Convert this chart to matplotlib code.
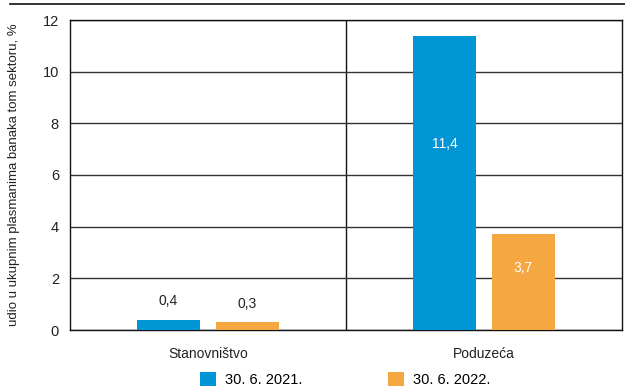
import matplotlib
matplotlib.use("Agg")
import matplotlib.pyplot as plt
from matplotlib.lines import Line2D
from matplotlib import font_manager
import numpy as np

names = {f.name for f in font_manager.fontManager.ttflist}
fam = 'Liberation Sans Narrow' if 'Liberation Sans Narrow' in names else 'Liberation Sans'
plt.rcParams['font.family'] = [fam, 'DejaVu Sans']

categories = ["Stanovništvo", "Poduzeća"]
series_names = ["30. 6. 2021.", "30. 6. 2022."]
v2021 = [0.4, 11.4]
v2022 = [0.3, 3.7]
labels2021 = ["0,4", "11,4"]
labels2022 = ["0,3", "3,7"]
yticks = [0, 2, 4, 6, 8, 10, 12]
colors = ["#0096D6", "#F5A841"]

fig = plt.figure(figsize=(6.25, 3.89), dpi=100)
ax = fig.add_axes([70/625, 1-330/389, 552/625, 310/389])

x = np.arange(len(categories))
w = 0.225
off = 0.143
b1 = ax.bar(x - off, v2021, w, color=colors[0], label=series_names[0], zorder=3)
b2 = ax.bar(x + off, v2022, w, color=colors[1], label=series_names[1], zorder=3)

for xi, v, lab in zip(x - off, v2021, labels2021):
    if v > 2:
        ax.text(xi, v*0.63, lab, ha='center', va='center', color='white', fontsize=10, zorder=4)
    else:
        ax.text(xi, v + 0.45, lab, ha='center', va='bottom', color='#222222', fontsize=10, zorder=4)
for xi, v, lab in zip(x + off, v2022, labels2022):
    if v > 2:
        ax.text(xi, v*0.65, lab, ha='center', va='center', color='white', fontsize=10, zorder=4)
    else:
        ax.text(xi, v + 0.45, lab, ha='center', va='bottom', color='#222222', fontsize=10, zorder=4)

ax.set_xlim(-0.5, 1.5)
ax.set_ylim(0, 12)
ax.set_yticks(yticks)
ax.set_yticklabels([str(t) for t in yticks], fontsize=10.5, color='#222222')
ax.set_xticks(x)
ax.set_xticklabels(categories, fontsize=10, color='#222222')
ax.tick_params(axis='both', length=0, pad=8)
ax.tick_params(axis='x', pad=12)
ax.yaxis.grid(True, color='#333333', linewidth=1.0, zorder=0)
ax.axvline(0.5, color='#111111', linewidth=1.0, zorder=1)
for s in ax.spines.values():
    s.set_color('#111111')
    s.set_linewidth(1.0)
ax.set_ylabel("udio u ukupnim plasmanima banaka tom sektoru, %", fontsize=9.5, color='#222222')
ax.yaxis.set_label_coords(-0.09, 0.5)

fig.add_artist(Line2D([10/625, 1.0], [1-4/389, 1-4/389], color='#111111', linewidth=1.2, transform=fig.transFigure))

leg = fig.legend(handles=[b1, b2], loc='lower left', bbox_to_anchor=(187/625, -11/389),
                 ncol=2, frameon=False, fontsize=10.5, handlelength=1.1, handleheight=1.1,
                 columnspacing=5.9, handletextpad=0.6)

fig.savefig("out.png", dpi=100)
